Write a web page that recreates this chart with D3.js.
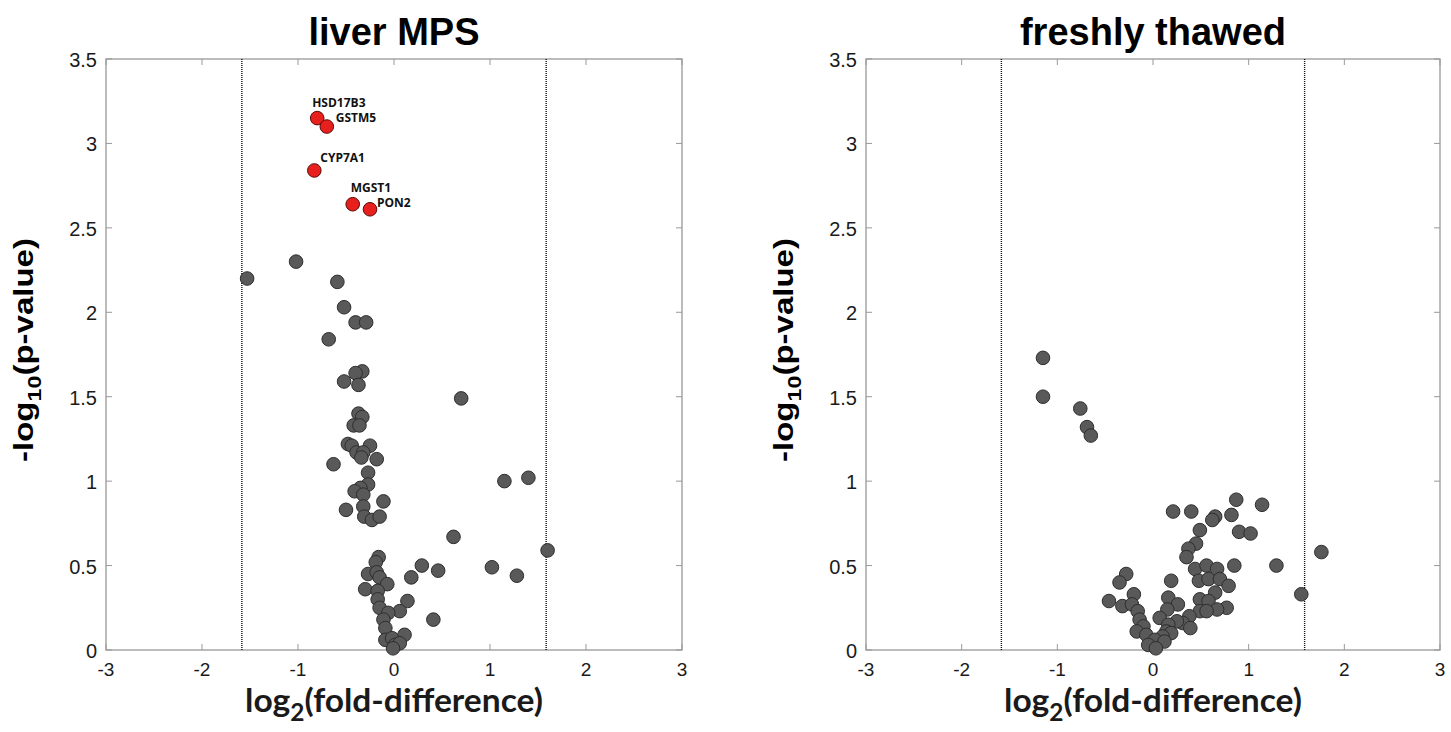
<!DOCTYPE html>
<html>
<head>
<meta charset="utf-8">
<script src="https://cdn.jsdelivr.net/npm/d3@7"></script>
<style>
  body { margin: 0; background: #fff; }
  svg text { font-family: "Liberation Sans", Arial, sans-serif; }
  .lbl { font-family: "Open Sans", sans-serif; font-weight: bold; }
  .cal { font-family: Lato, "Open Sans", sans-serif; font-weight: bold; }
  .hel { font-family: "Liberation Sans", Arial, sans-serif; font-weight: bold; }
</style>
</head>
<body>
<svg id="chart" width="1451" height="732"></svg>
<script>
// liver MPS: gray points [log2 fold-difference, -log10 p]
const liverX = [-1.53, -1.02, -0.59, -0.52, -0.40, -0.29, -0.68, -0.33, -0.40, -0.52, -0.37, 0.70,
  -0.37, -0.33, -0.42, -0.36, -0.48, -0.44, -0.25, -0.39, -0.32, -0.34, -0.18, -0.63,
  -0.27, -0.27, -0.35, -0.41, -0.32, -0.11, 1.15, 1.40, -0.50, -0.32, -0.31, -0.23,
  -0.15, 0.62, 1.60, -0.16, -0.19, -0.27, -0.18, -0.15, 0.29, 0.46, 0.18, 1.02,
  1.28, -0.07, -0.30, -0.17, -0.17, 0.14, -0.15, 0.06, -0.06, -0.11, 0.41, -0.09,
  0.11, -0.09, -0.02, 0.01, 0.06, -0.01];
const liverY = [2.20, 2.30, 2.18, 2.03, 1.94, 1.94, 1.84, 1.65, 1.64, 1.59, 1.57, 1.49,
  1.40, 1.38, 1.33, 1.33, 1.22, 1.21, 1.21, 1.17, 1.17, 1.14, 1.13, 1.10,
  1.05, 0.98, 0.96, 0.94, 0.92, 0.88, 1.00, 1.02, 0.83, 0.85, 0.79, 0.77,
  0.79, 0.67, 0.59, 0.55, 0.52, 0.45, 0.46, 0.43, 0.50, 0.47, 0.43, 0.49,
  0.44, 0.39, 0.36, 0.35, 0.30, 0.29, 0.25, 0.23, 0.22, 0.18, 0.18, 0.13,
  0.09, 0.06, 0.07, 0.03, 0.04, 0.01];

// liver MPS: significant proteins
const hitNames = ["HSD17B3", "GSTM5", "CYP7A1", "MGST1", "PON2"];
const hitX = [-0.80, -0.70, -0.83, -0.43, -0.25];
const hitY = [3.15, 3.10, 2.84, 2.64, 2.61];

// freshly thawed
const thawX = [-1.15, -1.15, -0.76, -0.69, -0.65, 0.87, 0.21, 0.40, 0.65, 0.62, 0.82, 0.49,
  0.90, 1.02, 1.14, 0.45, 0.37, 0.35, 0.44, 0.56, 0.67, 0.85, 0.48, 0.58,
  0.70, 0.79, -0.28, -0.35, 0.19, 0.65, -0.20, 0.16, 0.49, 0.58, -0.46, -0.32,
  -0.22, 0.26, 0.77, 0.67, 0.49, 0.56, 0.15, -0.16, 0.07, 0.38, -0.14, 0.31,
  0.25, 0.16, 0.39, -0.10, -0.17, 0.14, 0.19, -0.07, 0.10, 0.02, 0.12, -0.05,
  0.03, 1.76, 1.29, 1.55];
const thawY = [1.73, 1.50, 1.43, 1.32, 1.27, 0.89, 0.82, 0.82, 0.79, 0.77, 0.80, 0.71,
  0.70, 0.69, 0.86, 0.63, 0.60, 0.55, 0.48, 0.50, 0.48, 0.50, 0.41, 0.42,
  0.42, 0.38, 0.45, 0.40, 0.41, 0.34, 0.33, 0.31, 0.30, 0.29, 0.29, 0.26,
  0.27, 0.27, 0.25, 0.24, 0.23, 0.23, 0.24, 0.23, 0.19, 0.20, 0.18, 0.16,
  0.17, 0.15, 0.13, 0.14, 0.11, 0.11, 0.10, 0.09, 0.08, 0.06, 0.05, 0.03,
  0.01, 0.58, 0.50, 0.33];

const xTicks = [-3, -2, -1, 0, 1, 2, 3];
const yTicks = [0, 0.5, 1, 1.5, 2, 2.5, 3, 3.5];
const cutoff = Math.log2(3);

const svg = d3.select("#chart");

// stretch a text element along its own baseline so it spans `w` px
function fit(t, w) {
  const len = t.node().getComputedTextLength();
  return w / len;
}

function drawPanel(x0, x1, title, gx, gy, hits) {
  const top = 59, bottom = 650;
  const x = d3.scaleLinear().domain([-3, 3]).range([x0, x1]);
  const y = d3.scaleLinear().domain([0, 3.5]).range([bottom, top]);
  const g = svg.append("g");

  // box
  g.append("rect")
    .attr("x", x0).attr("y", top)
    .attr("width", x1 - x0).attr("height", bottom - top)
    .attr("fill", "none").attr("stroke", "#999").attr("stroke-width", 1.3);

  // inward ticks on all four sides
  xTicks.forEach(t => {
    g.append("line").attr("x1", x(t)).attr("x2", x(t)).attr("y1", bottom).attr("y2", bottom - 6)
      .attr("stroke", "#999");
    g.append("line").attr("x1", x(t)).attr("x2", x(t)).attr("y1", top).attr("y2", top + 6)
      .attr("stroke", "#999");
    g.append("text").attr("x", x(t)).attr("y", bottom + 26)
      .attr("text-anchor", "middle").attr("font-size", 19).attr("fill", "#1a1a1a")
      .text(t);
  });
  yTicks.forEach(t => {
    g.append("line").attr("x1", x0).attr("x2", x0 + 6).attr("y1", y(t)).attr("y2", y(t))
      .attr("stroke", "#999");
    g.append("line").attr("x1", x1).attr("x2", x1 - 6).attr("y1", y(t)).attr("y2", y(t))
      .attr("stroke", "#999");
    g.append("text").attr("x", x0 - 9).attr("y", y(t) + 8)
      .attr("text-anchor", "end").attr("font-size", 20).attr("fill", "#1a1a1a")
      .text(t);
  });

  // fold-change cutoffs
  [-cutoff, cutoff].forEach(c => {
    g.append("line").attr("x1", x(c)).attr("x2", x(c)).attr("y1", top).attr("y2", bottom)
      .attr("stroke", "#111").attr("stroke-width", 1.4).attr("stroke-dasharray", "1,1");
  });

  // points
  g.selectAll("circle.pt")
    .data(gx.map((v, i) => [v, gy[i]]))
    .enter().append("circle")
    .attr("class", "pt")
    .attr("cx", d => x(d[0])).attr("cy", d => y(d[1]))
    .attr("r", 6.8)
    .attr("fill", "#595959").attr("stroke", "#2e2e2e").attr("stroke-width", 1);

  if (hits) {
    const hd = hitNames.map((n, i) => ({ name: n, x: hitX[i], y: hitY[i] }));
    g.selectAll("circle.hit")
      .data(hd).enter().append("circle")
      .attr("class", "hit")
      .attr("cx", d => x(d.x)).attr("cy", d => y(d.y))
      .attr("r", 6.8)
      .attr("fill", "#e8201d").attr("stroke", "#5a0a08").attr("stroke-width", 1);
    // label offsets relative to the point
    const off = { HSD17B3: [-5, -11], GSTM5: [9, -5], CYP7A1: [6, -8], MGST1: [-2, -12], PON2: [7, -2] };
    g.selectAll("text.hit")
      .data(hd).enter().append("text")
      .attr("class", "lbl")
      .attr("x", d => x(d.x) + off[d.name][0])
      .attr("y", d => y(d.y) + off[d.name][1])
      .attr("font-size", 12).attr("fill", "#111")
      .text(d => d.name);
  }

  const cx = (x0 + x1) / 2;
  g.append("text").attr("class", "hel")
    .attr("x", cx).attr("y", 45)
    .attr("text-anchor", "middle").attr("font-size", 38).attr("fill", "#000")
    .text(title);

  const xl = g.append("text").attr("class", "cal")
    .attr("text-anchor", "middle").attr("font-size", 33).attr("fill", "#1a1a1a");
  xl.append("tspan").text("log");
  xl.append("tspan").attr("font-size", 24).attr("dy", 9).text("2");
  xl.append("tspan").attr("dy", -9).text("(fold-difference)");
  xl.attr("transform", `translate(${cx},712) scale(${fit(xl, 298)},1)`);

  const yl = g.append("text").attr("class", "hel")
    .attr("text-anchor", "middle").attr("font-size", 27).attr("fill", "#000");
  yl.append("tspan").text("-log");
  yl.append("tspan").attr("font-size", 19).attr("dy", 8).text("10");
  yl.append("tspan").attr("dy", -8).text("(p-value)");
  yl.attr("transform", `translate(${x0 - 73},350) rotate(-90) scale(${fit(yl, 224)},1)`);
}

drawPanel(106, 682, "liver MPS", liverX, liverY, true);
drawPanel(866, 1440, "freshly thawed", thawX, thawY, false);
</script>
</body>
</html>
